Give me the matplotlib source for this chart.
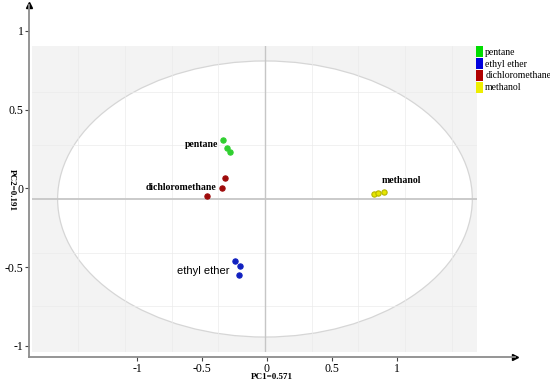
import numpy as np
import matplotlib
matplotlib.use("Agg")
import matplotlib.pyplot as plt
from matplotlib.patches import Ellipse, Patch

# scores (PC1, PC2) for each solvent, 3 replicates
groups = ["pentane", "ethyl ether", "dichloromethane", "methanol"]
pc1 = {
    "pentane": [-0.323, -0.292, -0.269],
    "ethyl ether": [-0.231, -0.192, -0.200],
    "dichloromethane": [-0.308, -0.331, -0.446],
    "methanol": [0.838, 0.869, 0.915],
}
pc2 = {
    "pentane": [0.375, 0.324, 0.298],
    "ethyl ether": [-0.394, -0.425, -0.483],
    "dichloromethane": [0.133, 0.070, 0.019],
    "methanol": [0.032, 0.038, 0.044],
}
tick_vals = [-1, -0.5, 0, 0.5, 1]
tick_labels = ["-1", "-0.5", "0", "0.5", "1"]

point_col = {"pentane": "#2fcf2f", "ethyl ether": "#1020c0",
             "dichloromethane": "#9e0a0a", "methanol": "#e6e600"}
legend_col = {"pentane": "#00dd00", "ethyl ether": "#0000dd",
              "dichloromethane": "#b00000", "methanol": "#eeee00"}
serif = "Liberation Serif"

fig = plt.figure(figsize=(5.5, 3.83), dpi=100)

# outer axes with arrows
ax = fig.add_axes([29/550, 1-357/383, 486/550, 352/383])
ax.set_facecolor("none")
ax.set_xlim(-1.831, 1.908)
ax.set_ylim(-1.07, 1.165)
for s in ["top", "right"]:
    ax.spines[s].set_visible(False)
for s in ["left", "bottom"]:
    ax.spines[s].set_color("#8c8c8c")
    ax.spines[s].set_linewidth(1.3)
ax.plot(1, 0, ">", color="black", ms=4, transform=ax.transAxes, clip_on=False)
ax.plot(0, 1, "^", color="black", ms=4, transform=ax.transAxes, clip_on=False)
ax.set_xticks(tick_vals)
ax.set_xticklabels(tick_labels, family=serif, fontsize=8.5)
ax.set_yticks(tick_vals)
ax.set_yticklabels(tick_labels, family=serif, fontsize=8.5)
ax.tick_params(length=3, width=0.8, color="#444444", pad=1)
ax.set_xlabel("PC1=0.571", family=serif, fontsize=6.5, fontweight="bold", labelpad=-1)
ax.set_ylabel("PC2=0.191", family=serif, fontsize=6.5, fontweight="bold", rotation=270)
ax.yaxis.set_label_coords(-0.043, 0.474)

# inner score panel
ia = fig.add_axes([32/550, 1-352/383, 445/550, 306/383])
ia.set_facecolor("#f3f3f3")
ia.set_xlim(-1.792, 1.631)
ia.set_ylim(-0.971, 0.971)
for s in ia.spines.values():
    s.set_visible(False)
ia.set_xticks([])
ia.set_yticks([])

ia.add_patch(Ellipse((0, 0), 3.19, 1.752, facecolor="white",
                     edgecolor="#d6d6d6", lw=0.9, zorder=1))
for gx in np.arange(-4, 5) * 0.359:
    if abs(gx) > 0.01:
        ia.axvline(gx, color="#ebebeb", lw=0.5, zorder=1.5)
for gy in np.arange(-2, 3) * 0.34:
    if abs(gy) > 0.01:
        ia.axhline(gy, color="#ebebeb", lw=0.5, zorder=1.5)
ia.axhline(0, color="#c6c6c6", lw=1.3, zorder=2)
ia.axvline(0, color="#c6c6c6", lw=1.0, zorder=2)

for g in groups:
    edge = "#b5b500" if g == "methanol" else point_col[g]
    ia.plot(pc1[g], pc2[g], "o", color=point_col[g], mec=edge, mew=0.8,
            ms=3.8, zorder=3)

ia.text(-0.362, 0.343, "pentane", family=serif, fontweight="bold",
        fontsize=7, ha="right", va="center")
ia.text(-0.375, 0.070, "dichloromethane", family=serif, fontweight="bold",
        fontsize=7, ha="right", va="center")
ia.text(-0.27, -0.455, "ethyl ether", family="Liberation Sans",
        fontsize=8, ha="right", va="center")
ia.text(0.90, 0.115, "methanol", family=serif, fontweight="bold",
        fontsize=7, ha="left", va="center")

handles = [Patch(facecolor=legend_col[g], edgecolor="none") for g in groups]
fig.legend(handles, groups, loc="upper left",
           bbox_to_anchor=(476/550, 1-46/383), frameon=False,
           prop={"family": serif, "size": 7}, handlelength=0.75,
           handleheight=1.35, handletextpad=0.2, labelspacing=0.1,
           borderpad=0, borderaxespad=0)

fig.savefig("out.png", dpi=100)
